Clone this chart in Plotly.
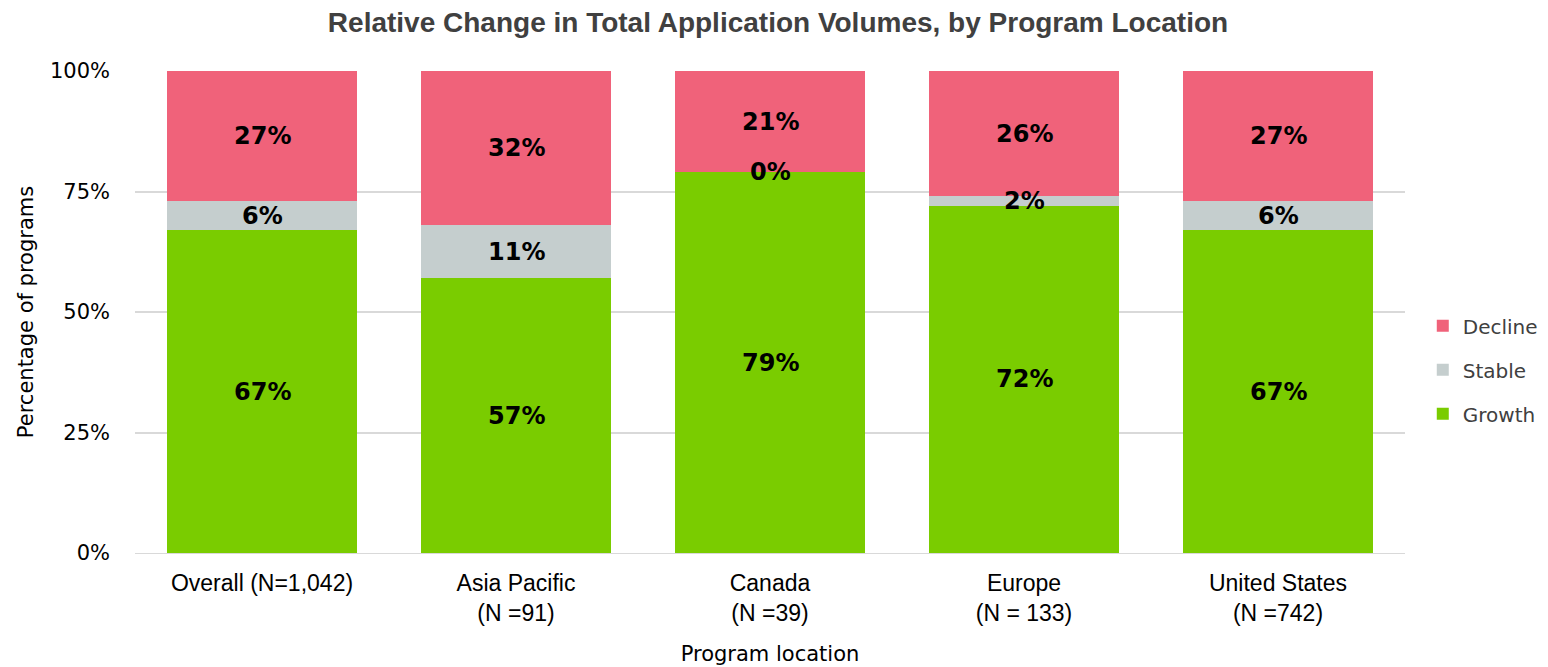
import plotly.graph_objects as go

categories = ["Overall (N=1,042)", "Asia Pacific<br>(N =91)", "Canada<br>(N =39)",
              "Europe<br>(N = 133)", "United States<br>(N =742)"]
growth = [67, 57, 79, 72, 67]
stable = [6, 11, 0, 2, 6]
decline = [27, 32, 21, 26, 27]
tick_vals = [0, 25, 50, 75, 100]
tick_text = ["0%", "25%", "50%", "75%", "100%"]

series = [("Growth", growth, "#7ACC00", 3), ("Stable", stable, "#C5CECE", 2),
          ("Decline", decline, "#F0627A", 1)]

fig = go.Figure()
for name, vals, col, rank in series:
    fig.add_trace(go.Bar(x=categories, y=vals, name=name, marker_color=col,
                         marker_line_width=0, legendgroup=name, legendrank=rank))

# labels at segment midpoints
base = [0] * len(categories)
for name, vals, col, rank in series:
    for i, v in enumerate(vals):
        fig.add_annotation(x=categories[i], y=base[i] + v / 2, text=f"{v}%", showarrow=False,
                           font=dict(family="DejaVu Sans", size=24, color="#000000", weight="bold"))
        base[i] += v

fig.update_layout(
    barmode="stack",
    bargap=0.25,
    width=1540, height=659,
    margin=dict(l=127, r=143, t=63, b=114, autoexpand=False),
    plot_bgcolor="white", paper_bgcolor="white",
    title=dict(text="<b>Relative Change in Total Application Volumes, by Program Location</b>",
               x=0.5, xanchor="center", y=0.979, yanchor="middle",
               font=dict(family="Liberation Sans", size=28, color="#404040")),
    legend=dict(x=1.014, xanchor="left", y=0.38, yanchor="middle", traceorder="grouped",
                tracegroupgap=15, font=dict(family="DejaVu Sans", size=20, color="#404040"),
                itemwidth=30),
    xaxis=dict(title=dict(text="Program location", standoff=21,
                          font=dict(family="DejaVu Sans", size=21, color="#000000")),
               tickfont=dict(family="Liberation Sans", size=23, color="#000000"),
               showline=True, linecolor="#D9D9D9", ticklabelstandoff=9),
    yaxis=dict(title=dict(text="Percentage of programs", standoff=10,
                          font=dict(family="DejaVu Sans", size=21, color="#000000")),
               range=[0, 100], tickvals=tick_vals, ticktext=tick_text,
               tickfont=dict(family="DejaVu Sans", size=21, color="#000000"),
               gridcolor="#D9D9D9", gridwidth=1.5, zeroline=False, ticklabelstandoff=24),
)

fig.write_html("out.html")
